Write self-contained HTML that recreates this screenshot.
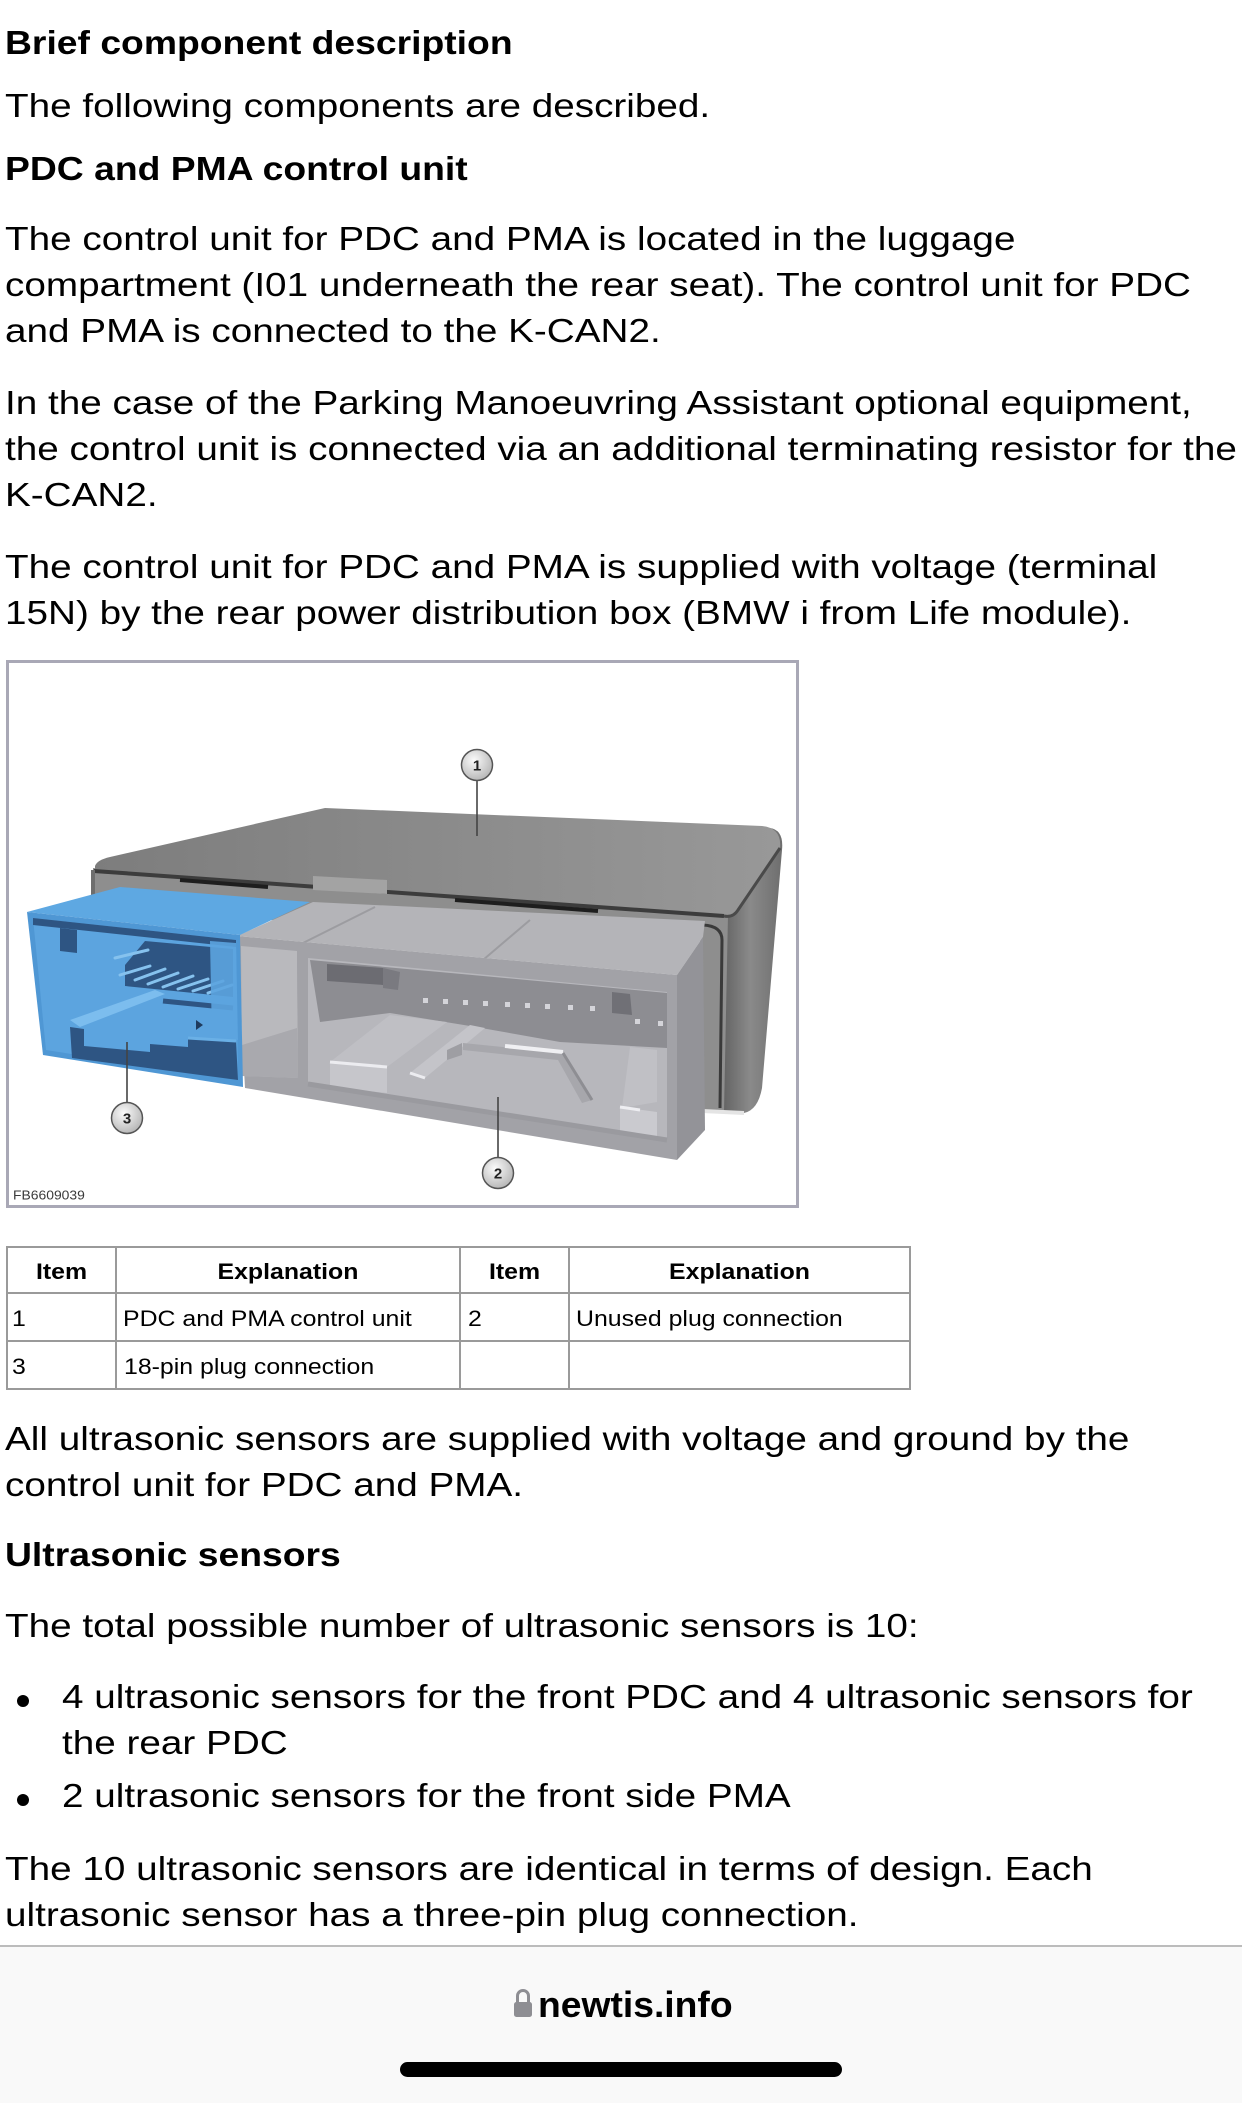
<!DOCTYPE html>
<html>
<head>
<meta charset="utf-8">
<style>
html,body{margin:0;padding:0;}
body{width:1242px;height:2101px;overflow:hidden;background:#fff;position:relative;font-family:"Liberation Sans",Arial,sans-serif;color:#000;}
.t{position:absolute;white-space:nowrap;font-size:33px;line-height:46px;transform:scaleX(1.172);transform-origin:0 0;left:5px;}
.b{font-weight:bold;transform:scaleX(1.13);}
.c{position:absolute;white-space:nowrap;font-size:22px;line-height:30px;transform:scaleX(1.13);transform-origin:0 0;}
.h{font-weight:bold;text-align:center;}
.dot{position:absolute;left:16.5px;width:12px;height:12px;border-radius:50%;background:#000;}
</style>
</head>
<body>

<div class="t b" style="top:19.6px">Brief component description</div>
<div class="t" style="top:82.6px">The following components are described.</div>
<div class="t b" style="top:145.6px">PDC and PMA control unit</div>
<div class="t" style="top:215.6px">The control unit for PDC and PMA is located in the luggage<br>compartment (I01 underneath the rear seat). The control unit for PDC<br>and PMA is connected to the K-CAN2.</div>
<div class="t" style="top:379.6px">In the case of the Parking Manoeuvring Assistant optional equipment,<br>the control unit is connected via an additional terminating resistor for the<br>K-CAN2.</div>
<div class="t" style="top:543.6px">The control unit for PDC and PMA is supplied with voltage (terminal<br>15N) by the rear power distribution box (BMW i from Life module).</div>

<svg style="position:absolute;left:0;top:650px" width="820" height="570" viewBox="0 650 820 570">
<defs>
<linearGradient id="lid" x1="0" y1="0" x2="1" y2="0"><stop offset="0" stop-color="#7d7d7d"/><stop offset="1" stop-color="#989898"/></linearGradient>
<linearGradient id="side" x1="0" y1="0" x2="1" y2="0"><stop offset="0" stop-color="#5c5c5c"/><stop offset="0.5" stop-color="#8a8a8a"/><stop offset="1" stop-color="#6e6e6e"/></linearGradient>
<radialGradient id="cg" cx="0.4" cy="0.35" r="0.7"><stop offset="0" stop-color="#fbfbfb"/><stop offset="1" stop-color="#b3b3b3"/></radialGradient>
</defs>
<rect x="7.5" y="661.5" width="790" height="545" fill="#fff" stroke="#a9a8b6" stroke-width="3"/>
<!-- right side face -->
<path d="M770,828 Q784,830 782,850 L762,1088 Q758,1110 744,1113 L718,1113 L726,916 Z" fill="url(#side)"/>
<rect x="715" y="990" width="7" height="50" fill="#222"/>
<!-- frame behind -->
<path d="M93,868 L728,915 L724,1112 L700,1110 L700,940 L93,912 Z" fill="#8e8e8e"/>
<path d="M703,925 Q722,926 722,940 L720,1108" stroke="#3a3a3a" stroke-width="3" fill="none"/>
<path d="M682,1110 L744,1113" stroke="#e4e4e4" stroke-width="4"/>
<!-- lid top -->
<path d="M95,866 Q97,860 110,857 L325,808 L762,826 Q782,828 780,848 L738,910 Q733,918 722,917 L95,873 Z" fill="url(#lid)"/>
<path d="M94,871 L724,916" stroke="#3c3c3c" stroke-width="4" fill="none"/>
<path d="M724,916 Q733,918 738,910 L780,848" stroke="#4a4a4a" stroke-width="3" fill="none"/>
<path d="M93,870 L93,905" stroke="#6e6e6e" stroke-width="4"/>
<path d="M180,880 L268,887" stroke="#1e1e1e" stroke-width="4"/>
<path d="M455,900 L598,911" stroke="#1e1e1e" stroke-width="4"/>
<path d="M313,876 L387,880 L387,894 L313,890 Z" fill="#a3a3a3"/>
<!-- gray housing -->
<path d="M237,936 L313,902 L705,921 L703,937 L677,975 Z" fill="#b4b4b8"/>
<path d="M303,943 L375,907 M483,960 L530,920" stroke="#9c9ca0" stroke-width="2"/>
<path d="M237,936 L677,975 L677,1160 L245,1088 Z" fill="#a2a2a7"/>
<path d="M677,975 L703,937 L705,1130 L677,1160 Z" fill="#939398"/>
<path d="M241,946 L297,951 L298,1078 L242,1076 Z" fill="#b9b9bd"/>
<path d="M242,1045 L297,1028 L298,1078 L242,1076 Z" fill="#a9a9ae"/>
<path d="M297,950 L307,952 L308,1088 L298,1086 Z" fill="#a2a2a7"/>
<path d="M308,958 L667,992 L667,1138 L308,1082 Z" fill="#b7b7bc"/>
<path d="M310,960 L667,993 L667,1048 L560,1042 L470,1026 L390,1013 L320,1022 Z" fill="#8d8d92"/>
<path d="M327,964 L383,968 L383,985 L327,981 Z" fill="#6c6c72"/>
<path d="M383,968 L400,972 L398,990 L383,988 Z" fill="#7a7a80"/>
<g fill="#d4d4d9">
<rect x="423" y="998" width="5" height="5"/><rect x="443" y="999" width="5" height="5"/><rect x="463" y="1000" width="5" height="5"/><rect x="483" y="1001" width="5" height="5"/><rect x="505" y="1002" width="5" height="5"/><rect x="525" y="1003" width="5" height="5"/><rect x="545" y="1004" width="5" height="5"/><rect x="568" y="1005" width="5" height="5"/><rect x="590" y="1006" width="5" height="5"/><rect x="635" y="1019" width="5" height="5"/><rect x="658" y="1021" width="5" height="5"/>
</g>
<path d="M612,992 L630,994 L632,1015 L612,1013 Z" fill="#707076"/>
<!-- left block -->
<path d="M330,1062 L390,1015 L447,1022 L387,1067 Z" fill="#bfbfc4"/>
<path d="M330,1062 L387,1067 L387,1093 L330,1087 Z" fill="#c6c6cb"/>
<path d="M330,1062 L387,1067" stroke="#ececf0" stroke-width="3"/>
<path d="M410,1073 L470,1025 L485,1028 L425,1078 Z" fill="#c4c4c9"/>
<path d="M410,1073 L425,1078" stroke="#ececf0" stroke-width="3"/>
<path d="M447,1050 L462,1043 L462,1055 L447,1060 Z" fill="#9e9ea3"/>
<!-- ridge -->
<path d="M463,1043 L563,1053 L592,1100 L582,1103 L558,1060 L463,1050 Z" fill="#a7a7ac"/>
<path d="M505,1046 L563,1052" stroke="#f0f0f3" stroke-width="4"/>
<path d="M563,1053 L592,1100" stroke="#8e8e93" stroke-width="3"/>
<!-- right post -->
<path d="M630,1047 L657,1050 L657,1102 L622,1108 Z" fill="#c0c0c5"/>
<path d="M620,1107 L657,1112 L657,1137 L620,1132 Z" fill="#cacacf"/>
<path d="M620,1107 L640,1110" stroke="#eeeef2" stroke-width="3"/>
<path d="M308,1084 L667,1140" stroke="#9a9a9f" stroke-width="5" fill="none"/>
<!-- blue connector -->
<path d="M27,912 L120,887 L310,902 L240,935 Z" fill="#5ea8e2"/>
<path d="M27,912 L240,935 L243,1087 L43,1055 Z" fill="#4f97d4"/>
<path d="M33,918 L236,940 L238,1080 L46,1050 Z" fill="#5ca4df"/>
<path d="M33,918 L236,940 L236,947 L33,925 Z" fill="#2e5583"/>
<path d="M60,928 L77,930 L77,953 L60,951 Z" fill="#2e5583"/>
<path d="M145,941 L233,949 L233,997 L125,986 L125,965 Z" fill="#2e5583"/>
<g stroke="#86c2ee" stroke-width="3" fill="none" stroke-linecap="round">
<path d="M115,958 L148,950"/><path d="M120,975 L150,966"/><path d="M135,980 L165,969"/><path d="M148,984 L178,973"/><path d="M163,987 L193,976"/><path d="M178,989 L208,979"/><path d="M193,991 L223,981"/><path d="M208,993 L232,985"/>
</g>
<path d="M70,1020 L155,990 L165,994 L80,1027 Z" fill="#7cbdee"/>
<path d="M163,1001 L233,1008" stroke="#2e5583" stroke-width="5"/>
<path d="M70,1027 L84,1029 L84,1046 L150,1052 L150,1044 L188,1047 L188,1038 L236,1041 L238,1080 L72,1058 Z" fill="#2e5583"/>
<path d="M210,941 L236,943 L238,1040 L212,1037 Z" fill="#5ca4df" opacity="0.9"/>
<path d="M188,1038 L236,1041" stroke="#6ab0e6" stroke-width="3"/>
<path d="M196,1020 L203,1025 L196,1030 Z" fill="#1f3b5e"/>
<!-- callouts -->
<g stroke="#444" stroke-width="1.6">
<line x1="477" y1="781" x2="477" y2="836"/>
<line x1="498" y1="1157" x2="498" y2="1097"/>
<line x1="127" y1="1102" x2="127" y2="1042"/>
</g>
<g fill="url(#cg)" stroke="#555" stroke-width="1.5">
<circle cx="477" cy="765" r="15.5"/>
<circle cx="498" cy="1173" r="15.5"/>
<circle cx="127" cy="1118" r="15.5"/>
</g>
<g font-family="Liberation Sans, Arial, sans-serif" font-size="15" font-weight="bold" text-anchor="middle" fill="#222">
<text x="477" y="770.5">1</text>
<text x="498" y="1178.5">2</text>
<text x="127" y="1123.5">3</text>
</g>
<text x="13" y="1199.5" font-family="Liberation Sans, Arial, sans-serif" font-size="13" fill="#3a3a3a" transform="translate(13 0) scale(1.07 1) translate(-13 0)">FB6609039</text>
</svg>

<!-- table -->
<svg style="position:absolute;left:0;top:1240px" width="920" height="160" viewBox="0 1240 920 160">
<g stroke="#9a9a9a" stroke-width="2" fill="none">
<line x1="7" y1="1247" x2="910" y2="1247"/>
<line x1="7" y1="1293" x2="910" y2="1293"/>
<line x1="7" y1="1341" x2="910" y2="1341"/>
<line x1="7" y1="1389" x2="910" y2="1389"/>
<line x1="7" y1="1246" x2="7" y2="1390"/>
<line x1="116" y1="1246" x2="116" y2="1390"/>
<line x1="460" y1="1246" x2="460" y2="1390"/>
<line x1="569" y1="1246" x2="569" y2="1390"/>
<line x1="910" y1="1246" x2="910" y2="1390"/>
</g>
</svg>
<div class="c h" style="left:7px;width:96.5px;top:1257.4px">Item</div>
<div class="c h" style="left:116px;width:304.4px;top:1257.4px">Explanation</div>
<div class="c h" style="left:460px;width:96.5px;top:1257.4px">Item</div>
<div class="c h" style="left:569px;width:301.8px;top:1257.4px">Explanation</div>
<div class="c" style="left:12px;top:1304px">1</div>
<div class="c" style="left:123px;top:1304px">PDC and PMA control unit</div>
<div class="c" style="left:468px;top:1304px">2</div>
<div class="c" style="left:576px;top:1304px">Unused plug connection</div>
<div class="c" style="left:12px;top:1352.4px">3</div>
<div class="c" style="left:124px;top:1352.4px">18-pin plug connection</div>

<div class="t" style="top:1415.6px">All ultrasonic sensors are supplied with voltage and ground by the<br>control unit for PDC and PMA.</div>
<div class="t b" style="top:1532px">Ultrasonic sensors</div>
<div class="t" style="top:1602.6px">The total possible number of ultrasonic sensors is 10:</div>
<div class="dot" style="top:1695px"></div>
<div class="t" style="top:1674px;left:62px">4 ultrasonic sensors for the front PDC and 4 ultrasonic sensors for<br>the rear PDC</div>
<div class="dot" style="top:1794px"></div>
<div class="t" style="top:1773px;left:62px">2 ultrasonic sensors for the front side PMA</div>
<div class="t" style="top:1845.6px">The 10 ultrasonic sensors are identical in terms of design. Each<br>ultrasonic sensor has a three-pin plug connection.</div>

<!-- bottom bar -->
<div style="position:absolute;left:0;top:1945px;width:1242px;height:156px;background:#f9f9f9;border-top:2px solid #bcbcbc;"></div>
<svg style="position:absolute;left:510px;top:1986px" width="26" height="34" viewBox="0 0 26 34">
<path d="M7.5,17 L7.5,10 A5.5,5.5 0 0 1 18.5,10 L18.5,17" stroke="#8e8e93" stroke-width="3" fill="none"/>
<rect x="4" y="16" width="18" height="15" rx="2.5" fill="#8e8e93"/>
</svg>
<div style="position:absolute;left:538px;top:1984.5px;font-size:36px;line-height:40px;font-weight:bold;white-space:nowrap;transform:scaleX(1.035);transform-origin:0 0;">newtis.info</div>
<div style="position:absolute;left:400px;top:2062px;width:442px;height:15px;border-radius:7.5px;background:#000;"></div>

</body>
</html>
